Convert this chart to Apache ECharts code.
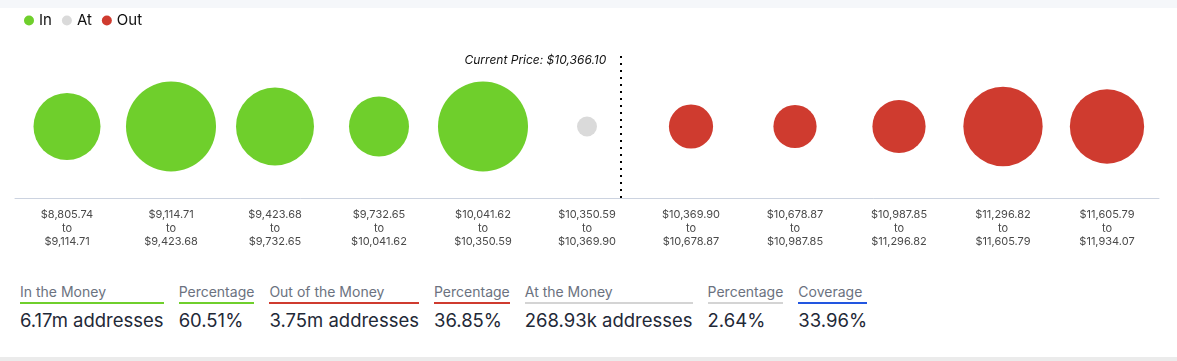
<!DOCTYPE html>
<html>
<head>
<meta charset="utf-8">
<script src="https://cdn.jsdelivr.net/npm/echarts@6/dist/echarts.min.js"></script>
<style>
  html, body { margin: 0; padding: 0; background: #fff; width: 1177px; height: 361px; overflow: hidden; font-family: Inter, "Noto Sans", sans-serif; }
  #topband { position: absolute; left: 0; top: 0; width: 1177px; height: 8px; background: #f5f7fa; }
  #chart { position: absolute; left: 0; top: 0; width: 1177px; height: 265px; }
  #stats { position: absolute; left: 20px; top: 283px; display: flex; gap: 15px; }
  .item .lab { font-size: 14px; color: #6b7280; padding-bottom: 2px; border-bottom: 2px solid #ccc; line-height: 17px; }
  .item .val { font-size: 18.5px; color: #1f2937; margin-top: 5px; line-height: 22px; white-space: nowrap; }
  #bottomband { position: absolute; left: 0; top: 357px; width: 1177px; height: 4px; background: #ebebeb; }
</style>
</head>
<body>
<div id="topband"></div>
<div id="chart"></div>
<div id="stats"></div>
<div id="bottomband"></div>
<script>
// ---- data ----
const categories = [
  '$8,805.74\nto\n$9,114.71',
  '$9,114.71\nto\n$9,423.68',
  '$9,423.68\nto\n$9,732.65',
  '$9,732.65\nto\n$10,041.62',
  '$10,041.62\nto\n$10,350.59',
  '$10,350.59\nto\n$10,369.90',
  '$10,369.90\nto\n$10,678.87',
  '$10,678.87\nto\n$10,987.85',
  '$10,987.85\nto\n$11,296.82',
  '$11,296.82\nto\n$11,605.79',
  '$11,605.79\nto\n$11,934.07'
];
// addresses (thousands) per bucket
const addressesK = [912, 1645, 1236, 731, 1645, 81, 396, 379, 575, 1278, 1121];
const zones = ['In', 'In', 'In', 'In', 'In', 'At', 'Out', 'Out', 'Out', 'Out', 'Out'];
const seriesNames = ['In', 'At', 'Out'];
const seriesColors = ['#6fcf2c', '#dadada', '#cf3b2f'];
const currentPriceLabel = 'Current Price: $10,366.10';
const currentPricePos = 5.32; // position along bucket index
const statLabels = ['In the Money', 'Percentage', 'Out of the Money', 'Percentage', 'At the Money', 'Percentage', 'Coverage'];
const statValues = ['6.17m addresses', '60.51%', '3.75m addresses', '36.85%', '268.93k addresses', '2.64%', '33.96%'];
const statColors = ['#6fcf2c', '#6fcf2c', '#cf3b2f', '#cf3b2f', '#d4d4d4', '#d4d4d4', '#2256e0'];

// ---- chart ----
const chart = echarts.init(document.getElementById('chart'), null, { renderer: 'canvas' });
const series = seriesNames.map((name, si) => ({
  name: name,
  type: 'scatter',
  xAxisIndex: 0,
  yAxisIndex: 0,
  itemStyle: { color: seriesColors[si], opacity: 1 },
  symbolSize: d => Math.sqrt(d[2]) * 2.219,
  data: categories.map((c, i) => zones[i] === name ? [i, 0, addressesK[i]] : null).filter(d => d),
  emphasis: { disabled: true }
}));
series.push({
  type: 'line',
  xAxisIndex: 1,
  yAxisIndex: 0,
  data: [],
  silent: true,
  markLine: {
    silent: true,
    symbol: ['none', 'none'],
    animation: false,
    lineStyle: { color: '#000', width: 2, type: [2, 5] },
    label: {
      show: true,
      position: 'end',
      formatter: currentPriceLabel,
      fontStyle: 'italic',
      fontSize: 12,
      fontFamily: 'Inter',
      color: '#111',
      align: 'right',
      verticalAlign: 'middle',
      offset: [-14, 10]
    },
    data: [{ xAxis: currentPricePos }]
  }
});

chart.setOption({
  animation: false,
  legend: {
    left: 19, top: 8,
    itemWidth: 10, itemHeight: 10, itemGap: 10,
    icon: 'circle',
    data: seriesNames,
    textStyle: { fontSize: 15, color: '#111', fontFamily: 'Inter' }
  },
  grid: { left: 15, right: 18, top: 55, bottom: 67, containLabel: false },
  xAxis: [{
    type: 'category',
    data: categories,
    boundaryGap: true,
    axisLine: { onZero: false, lineStyle: { color: '#ccd3e0', width: 1 } },
    axisTick: { show: false },
    axisLabel: { interval: 0, fontSize: 11, lineHeight: 13.5, color: '#4a4a4a', fontFamily: 'Inter', margin: 10 },
    splitLine: { show: false }
  }, {
    type: 'value', min: -0.5, max: 10.5, show: false
  }],
  yAxis: { type: 'value', min: -1, max: 1, show: false },
  series: series
});

// ---- stats ----
const stats = document.getElementById('stats');
statLabels.forEach((l, i) => {
  const d = document.createElement('div');
  d.className = 'item';
  d.innerHTML = '<div class="lab" style="border-bottom-color:' + statColors[i] + '">' + l + '</div><div class="val">' + statValues[i] + '</div>';
  stats.appendChild(d);
});
</script>
</body>
</html>
